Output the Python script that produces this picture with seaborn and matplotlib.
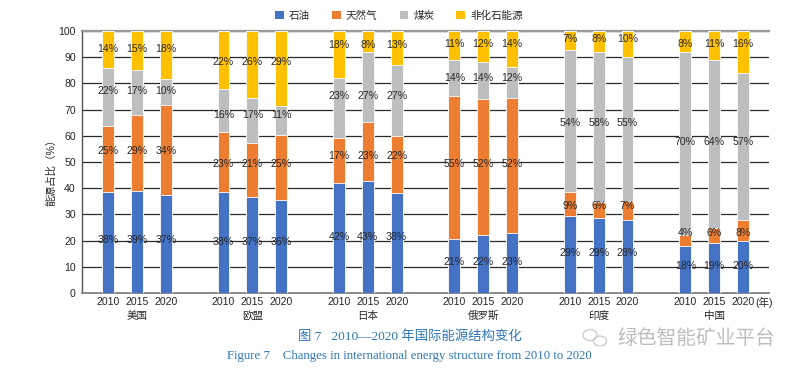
import numpy as np
import pandas as pd
import seaborn as sns
import matplotlib.pyplot as plt
from matplotlib.patches import Patch, Ellipse

# ---- data ----
regions = ["美国", "欧盟", "日本", "俄罗斯", "印度", "中国"]
years = ["2010", "2015", "2020"]
oil = [38, 39, 37, 38, 37, 36, 42, 43, 38, 21, 22, 23, 29, 29, 28, 18, 19, 20]
gas = [25, 29, 34, 23, 21, 25, 17, 23, 22, 55, 52, 52, 9, 6, 7, 4, 6, 8]
coal = [22, 17, 10, 16, 17, 11, 23, 27, 27, 14, 14, 12, 54, 58, 55, 70, 64, 57]
nonfossil = [14, 15, 18, 22, 26, 29, 18, 8, 13, 11, 12, 14, 7, 8, 10, 8, 11, 16]
series_names = ["石油", "天然气", "煤炭", "非化石能源"]
colors = ["#4472C4", "#ED7D31", "#BDBEC0", "#FFC000"]

# ---- layout ----
pos = [g * 4 + i for g in range(len(regions)) for i in range(len(years))]
vals = np.array([oil, gas, coal, nonfossil], dtype=float)
share = vals / vals.sum(axis=0) * 100
cum = share.cumsum(axis=0)

sns.set_theme(style="white")
plt.rcParams['font.family'] = ['Liberation Sans', 'Noto Sans CJK SC']

FS = 7.6
W, H = 801, 372
fig = plt.figure(figsize=(W / 100, H / 100), dpi=100)
ax = fig.add_axes([82 / W, 1 - 293 / H, (769 - 82) / W, (293 - 31) / H])

for k in reversed(range(4)):
    df = pd.DataFrame({"x": pos, "y": cum[k]})
    sns.barplot(data=df, x="x", y="y", native_scale=True, color=colors[k],
                width=0.41, saturation=1, edgecolor="white", linewidth=0.6,
                errorbar=None, ax=ax, zorder=3)

# value labels, aligned per group row
for g in range(len(regions)):
    idx = [g * 3 + i for i in range(3)]
    for k in range(4):
        mids = cum[k, idx] - share[k, idx] / 2
        ylab = mids.mean() + 1.0
        for j in idx:
            ax.text(pos[j], ylab, f"{int(vals[k, j])}%", ha="center", va="center",
                    fontsize=FS, color="#262626", zorder=5)

ax.set_xlim(-0.9, 22.9)
ax.set_ylim(0, 100)
ax.set_yticks(range(0, 101, 10))
ax.set_xticks(pos)
ax.set_xticklabels(years * len(regions))
ax.set_xlabel("")
ax.set_ylabel("能源占比（%）", fontsize=FS, labelpad=3, color="#262626")
ax.yaxis.set_label_coords(-0.038, 0.47)
ax.tick_params(axis="both", length=0, labelsize=FS, colors="#262626")
ax.tick_params(axis="y", pad=4.5)
ax.tick_params(axis="x", pad=3)

ax.set_axisbelow(True)
ax.yaxis.grid(True, color="#2a2a2a", linewidth=0.9)
ax.spines["right"].set_visible(False)
ax.spines["top"].set_color("#9a9a9a")
ax.spines["top"].set_linewidth(1.6)
ax.spines["bottom"].set_color("#8a8a8a")
ax.spines["bottom"].set_linewidth(1.4)
ax.spines["left"].set_color("#555555")
ax.spines["left"].set_linewidth(1.0)

for g, name in enumerate(regions):
    ax.text(g * 4 + 1, -0.086, name, transform=ax.get_xaxis_transform(),
            ha="center", va="center", fontsize=FS, color="#262626")
fig.text(755 / W, 1 - 302.5 / H, "(年)", ha="left", va="center",
         fontsize=FS, color="#262626")

handles = [Patch(facecolor=c, edgecolor="none") for c in colors]
fig.legend(handles, series_names, ncol=4, loc="center",
           bbox_to_anchor=(399 / W, 1 - 16 / H), frameon=False,
           fontsize=FS, handlelength=0.8, handleheight=0.8,
           handletextpad=0.5, columnspacing=2.1)

blue = "#2E75B6"
fig.text(410 / W, 1 - 337 / H, "图 7   2010—2020 年国际能源结构变化",
         ha="center", va="center", fontsize=9.6, color=blue,
         family=["Liberation Serif", "Noto Sans CJK SC"])
fig.text(409 / W, 1 - 356 / H,
         "Figure 7    Changes in international energy structure from 2010 to 2020",
         ha="center", va="center", fontsize=9.2, color=blue,
         family=["Liberation Serif", "Noto Sans CJK SC"])

# watermark
fig.text(696 / W, 1 - 338 / H, "绿色智能矿业平台", ha="center", va="center",
         fontsize=14.2, color="#BDBDBD", family=["Noto Sans CJK SC"])
fig.patches.append(Ellipse((590 / W, 1 - 335 / H), 14 / W, 11 / H,
                           transform=fig.transFigure, fill=False,
                           edgecolor="#C8C8C8", linewidth=0.9))
fig.patches.append(Ellipse((600 / W, 1 - 341 / H), 13 / W, 10 / H,
                           transform=fig.transFigure, fill=False,
                           edgecolor="#C8C8C8", linewidth=0.9))

fig.savefig("out.png", dpi=100)
